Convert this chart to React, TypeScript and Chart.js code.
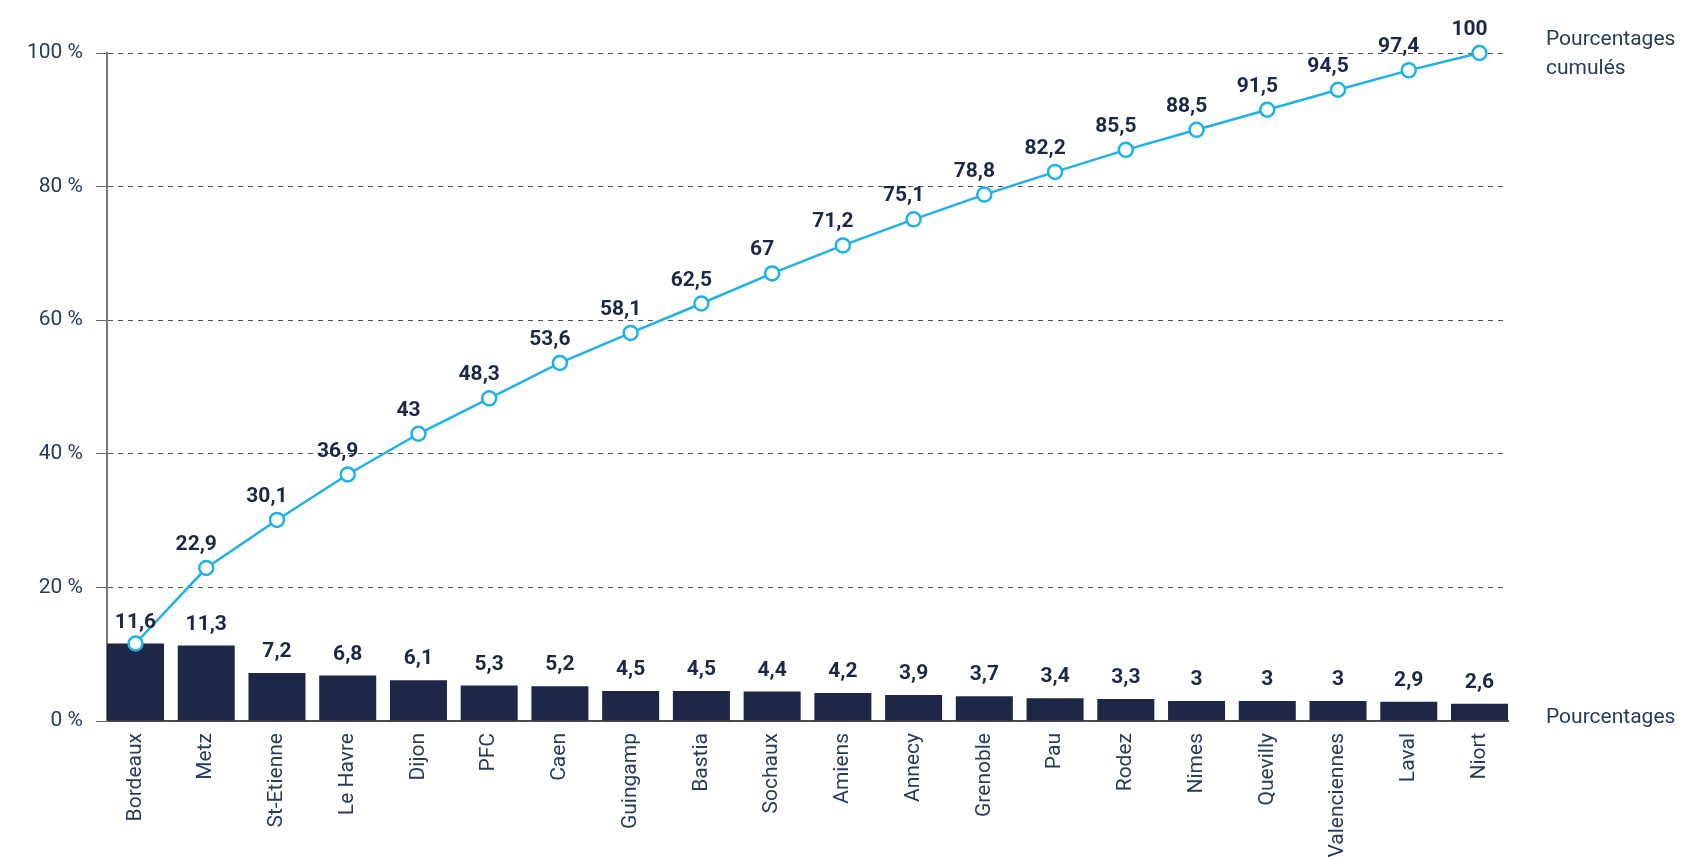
import { useEffect, useRef } from 'react';
import { Chart, registerables } from 'chart.js';

Chart.register(...registerables);

const categories = ['Bordeaux', 'Metz', 'St-Etienne', 'Le Havre', 'Dijon', 'PFC', 'Caen', 'Guingamp', 'Bastia', 'Sochaux', 'Amiens', 'Annecy', 'Grenoble', 'Pau', 'Rodez', 'Nimes', 'Quevilly', 'Valenciennes', 'Laval', 'Niort'];
const percentages = [11.6, 11.3, 7.2, 6.8, 6.1, 5.3, 5.2, 4.5, 4.5, 4.4, 4.2, 3.9, 3.7, 3.4, 3.3, 3, 3, 3, 2.9, 2.6];
const cumulative = [11.6, 22.9, 30.1, 36.9, 43, 48.3, 53.6, 58.1, 62.5, 67, 71.2, 75.1, 78.8, 82.2, 85.5, 88.5, 91.5, 94.5, 97.4, 100];
const yTicks = [0, 20, 40, 60, 80, 100];
const barSeriesName = ['Pourcentages'];
const lineSeriesName = ['Pourcentages', 'cumulés'];

const NAVY = '#1e2747';
const TEXT = '#2a3a5c';
const BLUE = '#1cb3e6';
const FONT = 'Roboto';

const fmt = (v: number) => String(v).replace('.', ',');

const labelsPlugin = {
  id: 'valueLabels',
  afterDatasetsDraw(chart: any) {
    const ctx = chart.ctx;
    ctx.save();
    ctx.font = `bold 21px ${FONT}`;
    ctx.fillStyle = NAVY;
    ctx.textAlign = 'center';
    ctx.textBaseline = 'alphabetic';
    const barMeta = chart.getDatasetMeta(1);
    barMeta.data.forEach((el: any, i: number) => {
      ctx.fillText(fmt(percentages[i]), el.x, el.y - 16);
    });
    const lineMeta = chart.getDatasetMeta(0);
    lineMeta.data.forEach((el: any, i: number) => {
      if (i === 0) return;
      ctx.fillText(fmt(cumulative[i]), el.x - 10, el.y - 18);
    });
    ctx.font = `21px ${FONT}`;
    ctx.fillStyle = TEXT;
    ctx.textAlign = 'left';
    const x = chart.chartArea.right + 38;
    const ys = chart.scales.y;
    const y0 = ys.getPixelForValue(0);
    barSeriesName.forEach((t, i) => ctx.fillText(t, x, y0 + 2 + i * 29));
    const y100 = ys.getPixelForValue(100);
    lineSeriesName.forEach((t, i) => ctx.fillText(t, x, y100 - 8 + i * 29));
    ctx.restore();
  },
};

export default function App() {
  const ref = useRef<HTMLCanvasElement>(null);
  useEffect(() => {
    if (!ref.current) return;
    const half = 0.403;
    const chart = new Chart(ref.current, {
      type: 'bar',
      data: {
        datasets: [
          {
            type: 'line',
            label: lineSeriesName.join(' '),
            data: cumulative.map((v, i) => ({ x: i, y: v })),
            borderColor: BLUE,
            borderWidth: 2.5,
            backgroundColor: '#ffffff',
            pointBackgroundColor: '#ffffff',
            pointBorderColor: BLUE,
            pointBorderWidth: 2.5,
            pointRadius: 7,
            tension: 0,
            clip: false,
            order: 0,
          } as any,
          {
            type: 'bar',
            label: barSeriesName.join(' '),
            data: percentages.map((v, i) => ({ x: i, y: v })),
            backgroundColor: NAVY,
            borderWidth: 0,
            categoryPercentage: 1,
            barPercentage: 0.806,
            order: 1,
          } as any,
        ],
      },
      options: {
        animation: false,
        responsive: true,
        maintainAspectRatio: false,
        layout: { padding: { top: 53, right: 174, left: 0, bottom: 0 } },
        plugins: { legend: { display: false }, tooltip: { enabled: false } },
        scales: {
          x: {
            type: 'linear',
            offset: false,
            min: -half,
            max: categories.length - 1 + half,
            grid: { display: false, drawTicks: false, offset: false },
            border: { display: true, color: '#4a4a4a', width: 2 },
            afterBuildTicks: (scale: any) => {
              scale.ticks = categories.map((_, i) => ({ value: i }));
            },
            afterFit: (scale: any) => {
              scale.height = 136;
            },
            ticks: {
              autoSkip: false,
              minRotation: 90,
              maxRotation: 90,
              padding: 12,
              color: TEXT,
              font: { family: FONT, size: 21 },
              callback: (v: any) => categories[Math.round(Number(v))] ?? '',
            },
          },
          y: {
            min: 0,
            max: 100,
            afterBuildTicks: (scale: any) => {
              scale.ticks = yTicks.map((v) => ({ value: v }));
            },
            afterFit: (scale: any) => {
              scale.width = 107;
            },
            grid: {
              color: '#555555',
              lineWidth: 1,
              drawTicks: true,
              tickLength: 11,
              tickBorderDash: [],
              tickColor: '#666666',
            },
            border: { display: true, color: '#777777', width: 2, dash: [5, 5] },
            ticks: {
              padding: 13,
              color: TEXT,
              font: { family: FONT, size: 21 },
              callback: (v: any) => `${v} %`,
            },
          },
        },
      },
      plugins: [labelsPlugin],
    });
    return () => chart.destroy();
  }, []);
  return (
    <div style={{ position: 'absolute', left: 0, top: 0, width: 1682, height: 857, background: '#ffffff' }}>
      <canvas ref={ref} />
    </div>
  );
}
